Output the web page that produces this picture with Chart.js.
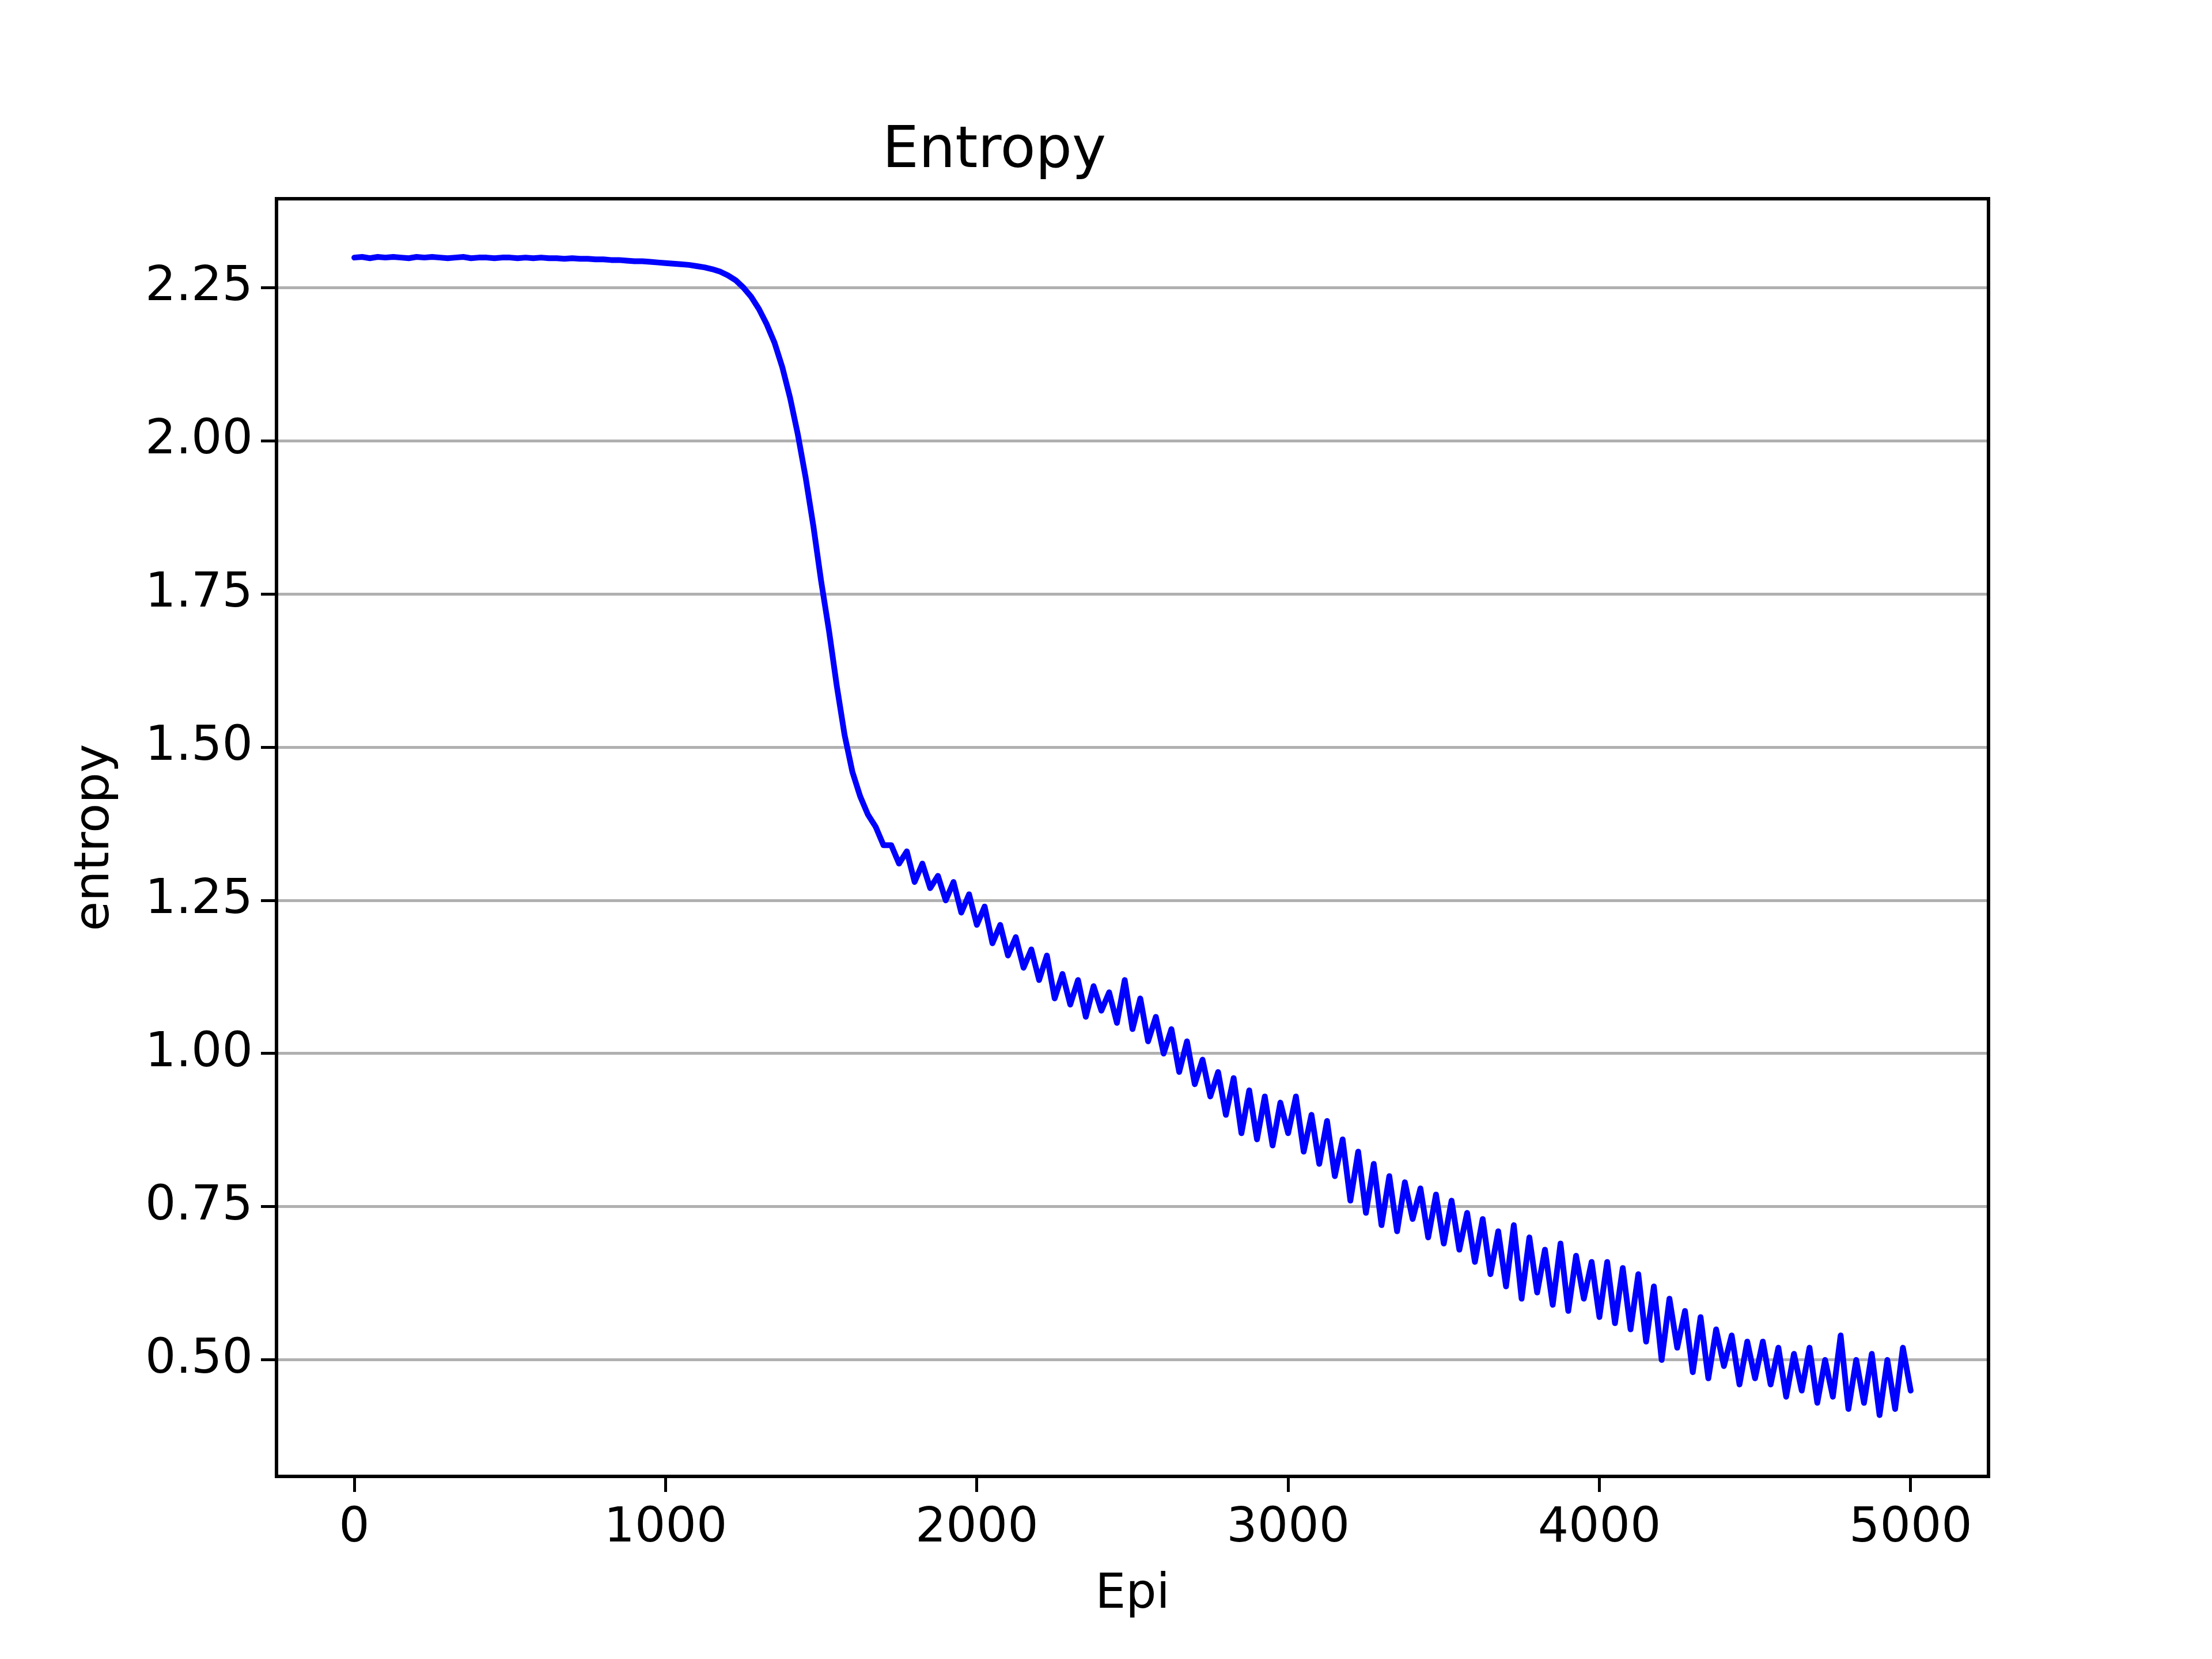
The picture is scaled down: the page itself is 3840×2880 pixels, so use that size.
<!DOCTYPE html>
<html><head><meta charset="utf-8">
<script src="https://cdn.jsdelivr.net/npm/chart.js@4/dist/chart.umd.min.js"></script>
<style>html,body{margin:0;padding:0;background:#fff}canvas{display:block}</style>
</head><body>
<canvas id="c" width="3840" height="2880" style="width:3840px;height:2880px"></canvas>
<script>
const epiStep = 25;
const entropy = [
2.299,2.300,2.298,2.300,2.299,2.300,2.299,2.298,2.300,2.299,
2.300,2.299,2.298,2.299,2.300,2.298,2.299,2.299,2.298,2.299,
2.299,2.298,2.299,2.298,2.299,2.298,2.298,2.297,2.298,2.297,
2.297,2.296,2.296,2.295,2.295,2.294,2.293,2.293,2.292,2.291,2.290,
2.289,2.288,2.287,2.285,2.283,2.280,2.276,2.270,2.262,2.250,2.235,2.215,2.19,2.16,2.12,2.07,2.01,1.94,1.86,1.77,
1.69,1.60,1.52,1.46,1.42,1.39,1.37,1.34,
1.34,1.31,1.33,1.28,1.31,1.27,1.29,1.25,1.28,1.23,1.26,1.21,
1.24,1.18,1.21,1.16,1.19,1.14,1.17,1.12,1.16,1.09,1.13,1.08,1.12,1.06,1.11,1.07,1.10,1.05,1.12,1.04,
1.09,1.02,1.06,1.00,1.04,0.97,1.02,0.95,0.99,0.93,0.97,0.90,0.96,0.87,0.94,0.86,0.93,0.85,0.92,0.87,
0.93,0.84,0.90,0.82,0.89,0.80,0.86,0.76,0.84,0.74,0.82,0.72,0.80,0.71,0.79,0.73,0.78,0.70,0.77,0.69,
0.76,0.68,0.74,0.66,0.73,0.64,0.71,0.62,0.72,0.60,0.70,0.61,0.68,0.59,0.69,0.58,0.67,0.60,0.66,0.57,
0.66,0.56,0.65,0.55,0.64,0.53,0.62,0.50,0.60,0.52,0.58,0.48,0.57,0.47,0.55,0.49,0.54,0.46,0.53,0.47,
0.53,0.46,0.52,0.44,0.51,0.45,0.52,0.43,0.50,0.44,0.54,0.42,0.50,0.43,0.51,0.41,0.50,0.42,0.52,0.45
];
const xTicks = [0,1000,2000,3000,4000,5000];
const yTicks = [0.50,0.75,1.00,1.25,1.50,1.75,2.00,2.25];

const pts = entropy.map((v,i)=>({x:i*epiStep,y:v}));
const F = "'DejaVu Sans', sans-serif";
new Chart(document.getElementById('c'),{
  type:'line',
  data:{datasets:[{data:pts,borderColor:'#0000ff',borderWidth:10,pointRadius:0,tension:0,fill:false,borderJoinStyle:'round',borderCapStyle:'round'}]},
  options:{
    responsive:false,animation:false,devicePixelRatio:1,
    layout:{padding:{left:0,right:388,top:0,bottom:0}},
    plugins:{legend:{display:false},tooltip:{enabled:false},
      title:{display:true,text:'Entropy',color:'#000',font:{family:F,size:100,weight:'normal'},padding:{top:204,bottom:21}}},
    scales:{
      x:{type:'linear',min:-250,max:5250,
        afterBuildTicks:s=>{s.ticks=xTicks.map(v=>({value:v}));},
        afterFit:s=>{s.height=317;},
        grid:{display:true,drawOnChartArea:false,color:'#000',tickLength:27,tickWidth:5},
        border:{display:true,color:'#000',width:6},
        ticks:{color:'#000',font:{family:F,size:84},padding:14,maxRotation:0,callback:v=>String(v)},
        title:{display:true,text:'Epi',color:'#000',font:{family:F,size:84},padding:{top:0,bottom:60}}},
      y:{type:'linear',min:0.310,max:2.395,
        afterBuildTicks:s=>{s.ticks=yTicks.map(v=>({value:v}));},
        afterFit:s=>{s.width=480;},
        grid:{display:true,color:'#b0b0b0',lineWidth:5,tickColor:'#000',tickLength:27,tickWidth:5},
        border:{display:true,color:'#000',width:6},
        ticks:{color:'#000',font:{family:F,size:84},padding:14,callback:v=>v.toFixed(2)},
        title:{display:true,text:'entropy',color:'#000',font:{family:F,size:84},padding:{top:116,bottom:0}}}
    }
  },
  plugins:[{id:'box',afterDraw(c){const a=c.chartArea,x=c.ctx;x.save();x.strokeStyle='#000';x.lineWidth=6;x.strokeRect(a.left,a.top,a.right-a.left,a.bottom-a.top);x.restore();}}]
});
</script>
</body></html>
